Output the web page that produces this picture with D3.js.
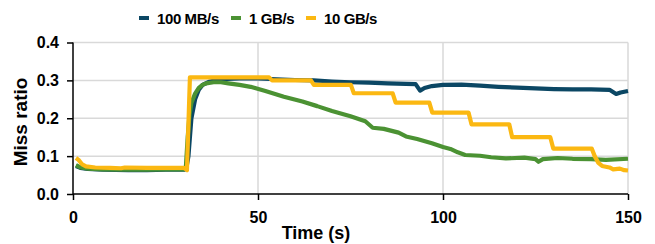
<!DOCTYPE html>
<html>
<head>
<meta charset="utf-8">
<script src="https://cdn.jsdelivr.net/npm/d3@7"></script>
<style>
body { margin:0; background:#fff; }
svg text { font-family: "Liberation Sans", Arial, sans-serif; font-weight:bold; fill:#000; }
.axis path, .axis line { stroke:#000; stroke-width:1.5; }
.axis text { font-size:16px; }
</style>
</head>
<body>
<div id="graph"></div>
<script>
var seriesNames = ["100 MB/s", "1 GB/s", "10 GB/s"];
var seriesColors = ["#0b4764", "#4b9233", "#fbb812"];

var xTicks = [0, 50, 100, 150];
var yTicks = [0, 0.1, 0.2, 0.3, 0.4];

// 100 MB/s
var mb100Time  = [0.8, 2, 4, 8, 15, 20, 25, 30, 30.6, 31.2, 32, 33, 34, 35, 37, 40, 45, 50, 55, 60, 65, 70, 75, 80, 85, 90, 92.6, 93.8, 95, 97, 100, 105, 110, 115, 120, 125, 130, 135, 140, 145, 146.8, 148, 150];
var mb100Ratio = [0.074, 0.069, 0.066, 0.064, 0.063, 0.063, 0.064, 0.064, 0.066, 0.1, 0.2, 0.25, 0.275, 0.288, 0.297, 0.303, 0.305, 0.305, 0.303, 0.301, 0.3, 0.297, 0.295, 0.294, 0.292, 0.291, 0.29, 0.273, 0.28, 0.285, 0.288, 0.289, 0.286, 0.283, 0.281, 0.279, 0.277, 0.276, 0.276, 0.275, 0.264, 0.268, 0.272];

// 1 GB/s
var gb1Time  = [0.8, 2, 4, 8, 15, 20, 25, 30, 30.5, 31, 31.5, 32, 33, 34, 35, 36, 38, 40, 42, 45, 48, 52, 57, 62, 66, 70, 75, 79, 81, 84, 88, 90, 93, 97, 100, 102, 104, 106, 110, 113, 117, 122, 125, 125.8, 127, 131, 135, 140, 144, 150];
var gb1Ratio = [0.076, 0.07, 0.067, 0.065, 0.064, 0.064, 0.065, 0.065, 0.07, 0.15, 0.21, 0.24, 0.265, 0.28, 0.288, 0.292, 0.295, 0.295, 0.292, 0.288, 0.283, 0.272, 0.257, 0.244, 0.232, 0.219, 0.205, 0.192, 0.175, 0.172, 0.162, 0.152, 0.145, 0.134, 0.124, 0.119, 0.11, 0.103, 0.101, 0.097, 0.094, 0.096, 0.092, 0.085, 0.092, 0.095, 0.093, 0.092, 0.09, 0.093];

// 10 GB/s
var gb10Time  = [0.8, 1.5, 2.5, 3.5, 6, 10, 13, 14, 20, 25, 30, 30.8, 31.6, 53, 53.8, 64.3, 65.1, 75.1, 75.9, 86.4, 87.2, 96.3, 97.1, 106.9, 107.7, 117.9, 118.7, 129, 129.8, 140.2, 141, 142, 143, 145, 146, 147.8, 149, 150];
var gb10Ratio = [0.095, 0.09, 0.078, 0.073, 0.07, 0.069, 0.068, 0.07, 0.069, 0.069, 0.069, 0.063, 0.308, 0.308, 0.3, 0.3, 0.288, 0.288, 0.266, 0.266, 0.241, 0.241, 0.215, 0.215, 0.184, 0.184, 0.15, 0.15, 0.12, 0.12, 0.1, 0.082, 0.074, 0.07, 0.065, 0.067, 0.063, 0.062];

var seriesTime = [mb100Time, gb1Time, gb10Time];
var seriesRatio = [mb100Ratio, gb1Ratio, gb10Ratio];

var svg = d3.select("#graph").append("svg").attr("width", 655).attr("height", 244);

var x = d3.scaleLinear().domain([0, 150]).range([73, 628]);
var y = d3.scaleLinear().domain([0, 0.4]).range([194, 42.5]);

// grid
svg.append("g").selectAll("line.h")
    .data(yTicks.slice(1))
    .enter().append("line")
    .attr("x1", x(0)).attr("x2", x(150))
    .attr("y1", function(d){ return y(d); }).attr("y2", function(d){ return y(d); })
    .attr("stroke", "#d9d9d9").attr("stroke-width", 1.5);

svg.append("g").selectAll("line.v")
    .data(xTicks.slice(1))
    .enter().append("line")
    .attr("x1", function(d){ return x(d); }).attr("x2", function(d){ return x(d); })
    .attr("y1", y(0)).attr("y2", y(0.4))
    .attr("stroke", "#d9d9d9").attr("stroke-width", 1.5);

// lines
var line = d3.line()
    .x(function(d){ return x(d[0]); })
    .y(function(d){ return y(d[1]); });

seriesNames.forEach(function(name, i){
  var pts = seriesTime[i].map(function(t, j){ return [t, seriesRatio[i][j]]; });
  svg.append("path")
    .datum(pts)
    .attr("fill", "none")
    .attr("stroke", seriesColors[i])
    .attr("stroke-width", 4.2)
    .attr("stroke-linejoin", "round")
    .attr("d", line);
});

// axes
svg.append("g")
    .attr("class", "axis")
    .attr("transform", "translate(0," + y(0) + ")")
    .call(d3.axisBottom(x).tickValues(xTicks).tickSize(6).tickPadding(12).tickFormat(d3.format("d")))
    .call(function(g){ g.select(".domain").attr("d", "M" + x(0) + ",0H" + x(150)); });

svg.append("g")
    .attr("class", "axis")
    .attr("transform", "translate(" + x(0) + ",0)")
    .call(d3.axisLeft(y).tickValues(yTicks).tickSize(6).tickPadding(8).tickFormat(d3.format(".1f")))
    .call(function(g){ g.select(".domain").attr("d", "M0," + y(0) + "V" + y(0.4)); });

// axis titles
svg.append("text")
    .attr("text-anchor", "middle")
    .attr("x", 316)
    .attr("y", 239)
    .style("font-size", "18px")
    .text("Time (s)");

svg.append("text")
    .attr("text-anchor", "middle")
    .attr("transform", "translate(27,122) rotate(-90)")
    .style("font-size", "19px")
    .text("Miss ratio");

// legend
var legendX = [139, 231, 306];
var legend = svg.append("g");
seriesNames.forEach(function(name, i){
  legend.append("rect")
    .attr("x", legendX[i]).attr("y", 16)
    .attr("width", 10).attr("height", 4)
    .attr("fill", seriesColors[i]);
  legend.append("text")
    .attr("x", legendX[i] + 18)
    .attr("y", 24)
    .style("font-size", "15px")
    .style("letter-spacing", "-0.4px")
    .text(name);
});
</script>
</body>
</html>
